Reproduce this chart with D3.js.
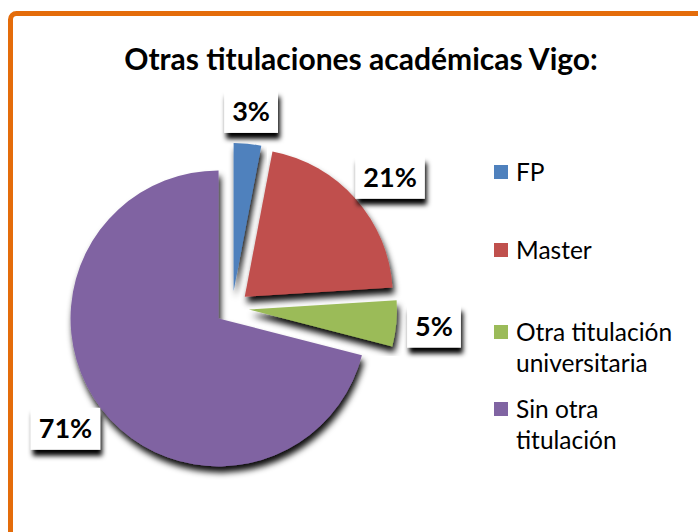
<!DOCTYPE html>
<html><head><meta charset="utf-8">
<script src="https://cdn.jsdelivr.net/npm/d3@7"></script>
<style>body{margin:0;background:#fff}svg{display:block}text{font-family:Lato,"Open Sans",sans-serif}</style>
</head><body><svg id="c" width="698" height="532"></svg>
<script>
const title = "Otras titulaciones académicas Vigo:";
const categories = ["FP", "Master", "Otra titulación universitaria", "Sin otra titulación"];
const legendLines = [["FP"], ["Master"], ["Otra titulación", "universitaria"], ["Sin otra", "titulación"]];
const values = [3, 21, 5, 71];
const labels = ["3%", "21%", "5%", "71%"];
const colors = ["#4F81BD", "#C0504D", "#9BBB59", "#8064A2"];

const svg = d3.select("#c");
const defs = svg.append("defs");
const sh = defs.append("filter").attr("id","sh").attr("x","-20%").attr("y","-20%").attr("width","140%").attr("height","140%");
sh.append("feDropShadow").attr("dx",2).attr("dy",6).attr("stdDeviation",3).attr("flood-color","#000").attr("flood-opacity",0.95);
const lsh = defs.append("filter").attr("id","lsh").attr("x","-30%").attr("y","-30%").attr("width","160%").attr("height","180%");
lsh.append("feDropShadow").attr("dx",2).attr("dy",6).attr("stdDeviation",2.5).attr("flood-color","#000").attr("flood-opacity",1);

// frame (only top and left edges visible)
svg.append("rect").attr("x",10.5).attr("y",13.5).attr("width",760).attr("height",600).attr("rx",6)
  .attr("fill","none").attr("stroke","#E46C0A").attr("stroke-width",5);

svg.append("text").attr("x",361).attr("y",70).attr("text-anchor","middle")
  .attr("font-size",30).attr("font-weight","bold").attr("fill","#000").text(title);

const cx = 232, cy = 308, r = 148, explode = 17, labelR = 176;
const pie = d3.pie().sort(null).value(d => d);
const arcs = pie(values);
const arc = d3.arc().innerRadius(0).outerRadius(r);
const g = svg.append("g").attr("transform",`translate(${cx},${cy})`);
const mid = a => (a.startAngle + a.endAngle) / 2;

g.selectAll("path.s").data(arcs).join("path").attr("class","s")
  .attr("d", arc)
  .attr("transform", a => `translate(${explode*Math.sin(mid(a))},${-explode*Math.cos(mid(a))})`)
  .attr("fill", (a,i) => colors[i])
  .attr("filter","url(#sh)");

const boxH = 42;
const lg = g.selectAll("g.l").data(arcs).join("g").attr("class","l");
lg.append("text").attr("text-anchor","middle").attr("dy","0.35em")
  .attr("font-size",27).attr("font-weight","bold").attr("fill","#000")
  .text((a,i) => labels[i]);
lg.each(function(a){
  const t = d3.select(this).select("text");
  const w = t.node().getComputedTextLength() + 16;
  const sx = Math.sin(mid(a)), sy = -Math.cos(mid(a));
  const x = labelR*sx + (w/2)*sx, y = labelR*sy + (boxH/2)*sy;
  d3.select(this).attr("transform",`translate(${x},${y})`);
  d3.select(this).insert("rect","text").attr("x",-w/2).attr("y",-boxH/2).attr("width",w).attr("height",boxH)
    .attr("fill","#fff").attr("filter","url(#lsh)");
});

// legend
const legendY = [181, 259, 341, 418];
const leg = svg.append("g");
categories.forEach((c,i) => {
  leg.append("rect").attr("x",494).attr("y",legendY[i]-16).attr("width",14).attr("height",14).attr("fill",colors[i]);
  legendLines[i].forEach((ln,j) => {
    leg.append("text").attr("x",516).attr("y",legendY[i]+j*31).attr("font-size",24.5).attr("fill","#000").text(ln);
  });
});
</script></body></html>
